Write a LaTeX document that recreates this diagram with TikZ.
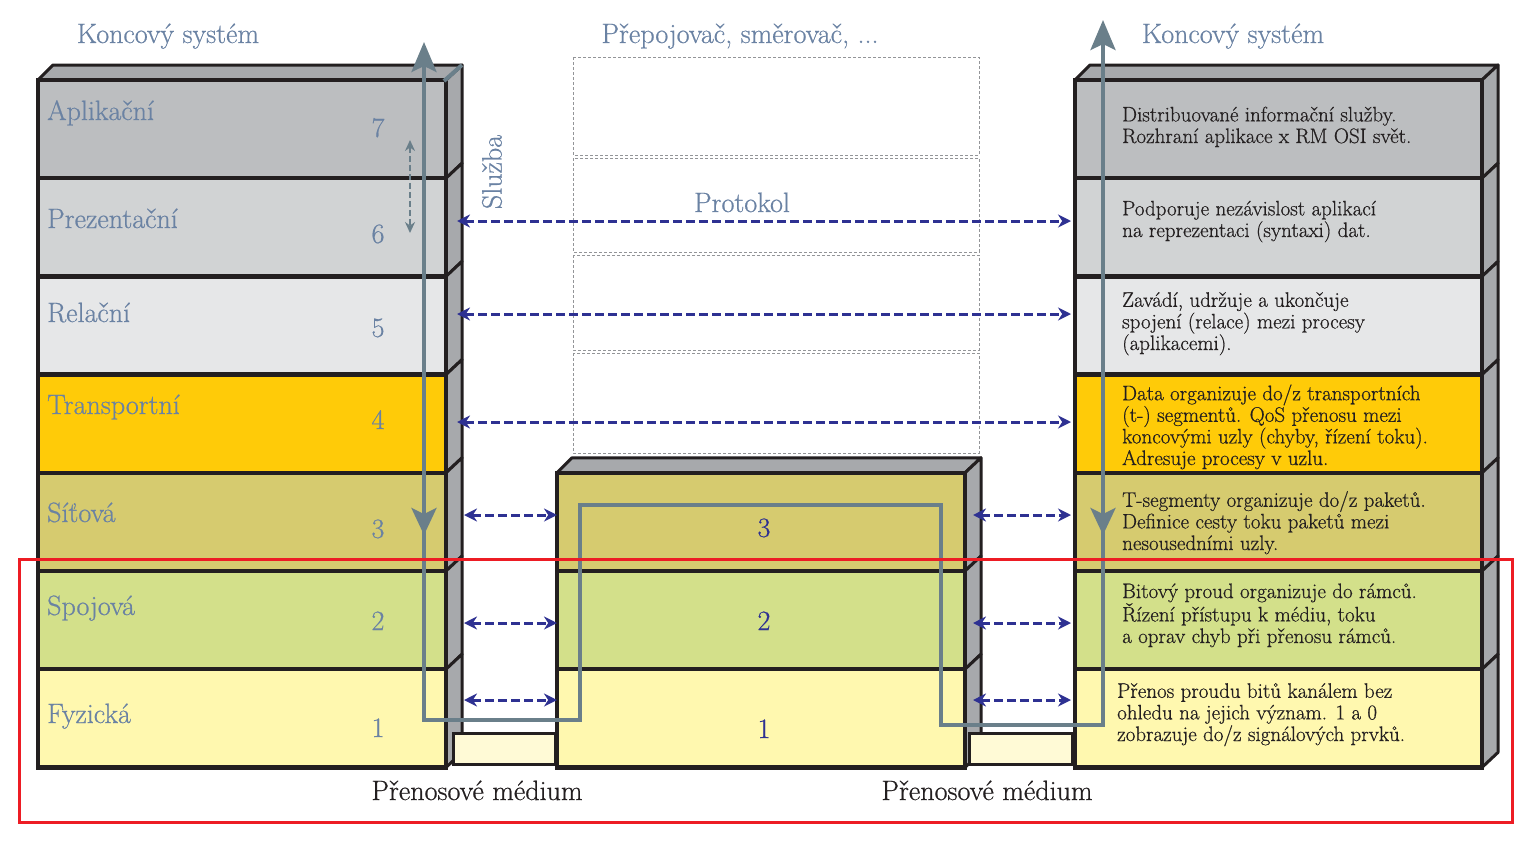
\documentclass[tikz,border=0pt]{standalone}
\usepackage{fontspec}
\newfontface\silne{Latin Modern Roman}[FakeBold=0.6]
\usetikzlibrary{arrows.meta}

\definecolor{obrys}{HTML}{231F20}
\definecolor{sediva}{HTML}{A7A9AC}
\definecolor{carky}{HTML}{939598}
\definecolor{c7}{HTML}{BCBEC0}
\definecolor{c6}{HTML}{D1D3D4}
\definecolor{c5}{HTML}{E6E7E8}
\definecolor{c4}{HTML}{FFCB08}
\definecolor{c3}{HTML}{D6CB6F}
\definecolor{c2}{HTML}{D3E08A}
\definecolor{c1}{HTML}{FFF8AF}
\definecolor{medium}{HTML}{FFFAD6}
\definecolor{popisek}{HTML}{6A82A3}
\definecolor{modra}{HTML}{2E3192}
\definecolor{cesta}{HTML}{6A7F8A}
\definecolor{ramec}{HTML}{ED1C24}

\tikzset{
	cela/.style={draw=obrys, line width=4.5pt},
	bok/.style={draw=obrys, fill=sediva, line width=3pt, line join=round},
	nazev/.style={inner sep=0pt, text=popisek, font=\silne\fontsize{28}{32}\selectfont},
	cislo/.style={nazev, anchor=base},
	popis/.style={inner sep=0pt, anchor=base west, align=left, text=obrys, font=\silne\fontsize{21}{21.6}\selectfont},
	protokol/.style={draw=modra, line width=3pt, dash pattern=on 9pt off 4pt, {Stealth[length=13pt,width=13pt]}-{Stealth[length=13pt,width=13pt]}},
	sluzba/.style={draw=cesta, line width=4pt},
}

% one layer: left x, right x, top y, colour
\newcommand{\vrstva}[4]{%
	\filldraw[bok] (#2,#3) -- ++(16,-15) -- ++(0,98.2) -- ++(-16,15) -- cycle;
	\filldraw[cela, fill=#4] (#1,#3) rectangle (#2,#3+98.2);
}

\begin{document}
\begin{tikzpicture}[x=1pt,y=-1pt]
	\useasboundingbox (0,0) rectangle (1531,841);

	% dashed boxes of the switch
	\foreach \a/\b in {57/155,158/252,255/350,353/453}
		\draw[carky, line width=0.9pt, dash pattern=on 3pt off 2pt] (573,\a) rectangle (979,\b);

	% left end system
	\filldraw[bok] (38,80) -- ++(15,-15) -- (462,65) -- (446,80) -- cycle;
	\foreach \c [count=\i from 0] in {c7,c6,c5,c4,c3,c2,c1}
		\vrstva{38}{446}{80+\i*98.2}{\c};

	% switch
	\filldraw[bok] (557,472.8) -- ++(15,-15) -- (981,457.8) -- (965,472.8) -- cycle;
	\foreach \c [count=\i from 4] in {c3,c2,c1}
		\vrstva{557}{965}{80+\i*98.2}{\c};

	% right end system
	\filldraw[bok] (1075,80) -- ++(15,-15) -- (1498,65) -- (1482,80) -- cycle;
	\foreach \c [count=\i from 0] in {c7,c6,c5,c4,c3,c2,c1}
		\vrstva{1075}{1482}{80+\i*98.2}{\c};

	% medium
	\filldraw[fill=medium, draw=obrys, line width=3pt] (453,733) rectangle (555,764);
	\filldraw[fill=medium, draw=obrys, line width=3pt] (969,733) rectangle (1072,764);

	% layer names
	\foreach \n/\t/\y in {7/Aplikační/120, 6/Prezentační/228, 5/Relační/322, 4/Transportní/414, 3/Síťová/522, 2/Spojová/615, 1/Fyzická/723}
		\node[nazev, anchor=base west] (n\n) at (47,\y) {\t};

	% layer numbers
	\foreach \n/\y in {7/137, 6/243, 5/337, 4/429, 3/538, 2/630, 1/737}
		\node[cislo] (k\n) at (378,\y) {\n};
	\foreach \n/\y in {3/537, 2/630, 1/738}
		\node[cislo, text=modra] (m\n) at (764,\y) {\n};

	% descriptions (anchored at the last line)
	\node[popis] (d7) at (1122,143) {Distribuované informační služby.\\Rozhraní aplikace x RM OSI svět.};
	\node[popis] (d6) at (1122,237) {Podporuje nezávislost aplikací\\na reprezentaci (syntaxi) dat.};
	\node[popis] (d5) at (1122,350) {Zavádí, udržuje a ukončuje\\spojení (relace) mezi procesy\\(aplikacemi).};
	\node[popis] (d4) at (1122,465) {Data organizuje do/z transportních\\(t-) segmentů. QoS přenosu mezi\\koncovými uzly (chyby, řízení toku).\\Adresuje procesy v uzlu.};
	\node[popis] (d3) at (1122,550) {T-segmenty organizuje do/z paketů.\\Definice cesty toku paketů mezi\\nesousedními uzly.};
	\node[popis] (d2) at (1122,643) {Bitový proud organizuje do rámců.\\Řízení přístupu k médiu, toku\\a oprav chyb při přenosu rámců.};
	\node[popis] (d1) at (1117,741) {Přenos proudu bitů kanálem bez\\ohledu na jejich význam. 1 a 0\\zobrazuje do/z signálových prvků.};

	% titles
	\node[nazev, anchor=base] (t1) at (168,43) {Koncový systém};
	\node[nazev, anchor=base] (t2) at (740,43) {Přepojovač, směrovač, ...};
	\node[nazev, anchor=base] (t3) at (1233,43) {Koncový systém};
	\node[nazev, anchor=base] (pk) at (742,212) {Protokol};
	\node[nazev, rotate=90] (sl) at (492,172) {Služba};
	\node[nazev, text=obrys, anchor=base] (pm1) at (477,800) {Přenosové médium};
	\node[nazev, text=obrys, anchor=base] (pm2) at (987,800) {Přenosové médium};

	% protocol arrows
	\foreach \n/\y in {6/221, 5/314, 4/422} {
		\coordinate (pl\n) at (457,\y);
		\coordinate (pr\n) at (1071,\y);
		\draw[protokol] (pl\n) -- (pr\n);
	}
	\foreach \n/\y in {3/515, 2/623, 1/700} {
		\coordinate (al\n) at (464,\y);
		\coordinate (bl\n) at (557,\y);
		\coordinate (ar\n) at (973,\y);
		\coordinate (br\n) at (1071,\y);
		\draw[protokol] (al\n) -- (bl\n);
		\draw[protokol] (ar\n) -- (br\n);
	}

	% service
	\coordinate (v1) at (410,140);
	\coordinate (v2) at (410,233);
	\draw[cesta, line width=2.5pt, dash pattern=on 6pt off 3pt, {Stealth[length=11pt,width=10pt]}-{Stealth[length=11pt,width=10pt]}] (v1) -- (v2);
	\draw[sluzba] (444,81) -- (462,65);

	% path of the data
	\coordinate (s0) at (424,42);
	\coordinate (s1) at (424,720);
	\coordinate (s2) at (580,720);
	\coordinate (s3) at (580,505);
	\coordinate (s4) at (941,505);
	\coordinate (s5) at (941,725);
	\coordinate (s6) at (1103,725);
	\coordinate (s7) at (1103,20);
	\draw[sluzba, {Stealth[length=30pt,width=25pt,inset=6pt]}-{Stealth[length=30pt,width=25pt,inset=6pt]}] (s0) -- (s1) -- (s2) -- (s3) -- (s4) -- (s5) -- (s6) -- (s7);
	\coordinate (h1) at (424,500);
	\coordinate (h2) at (424,535);
	\coordinate (h3) at (1103,500);
	\coordinate (h4) at (1103,535);
	\draw[sluzba, -{Stealth[length=27pt,width=25pt,inset=6pt]}] (h1) -- (h2);
	\draw[sluzba, -{Stealth[length=27pt,width=25pt,inset=6pt]}] (h3) -- (h4);

	% red frame
	\draw[ramec, line width=3pt] (19,559) rectangle (1512,822);

\end{tikzpicture}
\end{document}
